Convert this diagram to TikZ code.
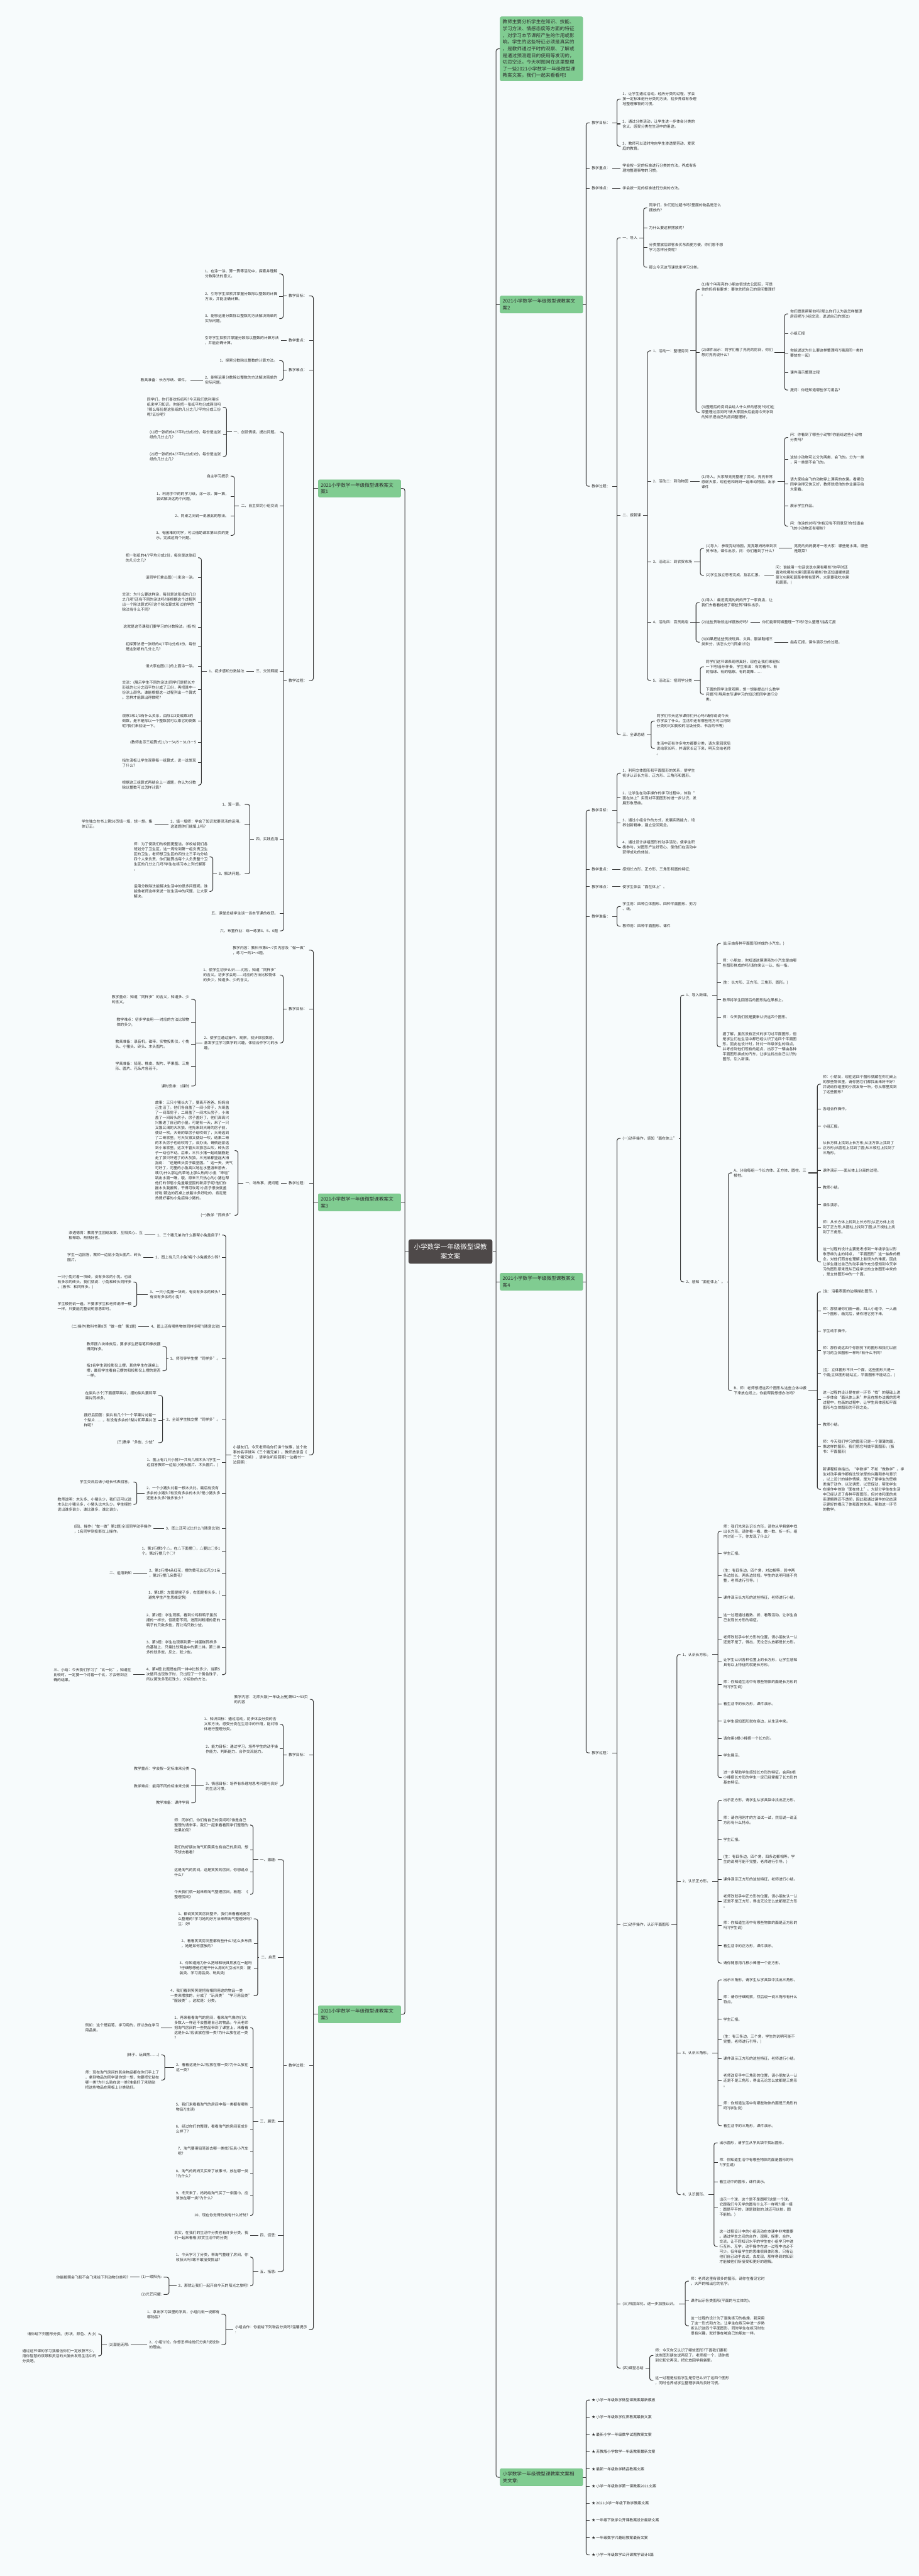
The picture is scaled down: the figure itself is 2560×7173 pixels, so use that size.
\documentclass[tikz,border=0pt]{standalone}
\usepackage{fontspec}
\setmainfont{Noto Sans CJK SC}
\definecolor{bg}{RGB}{247,251,252}
\definecolor{grn}{RGB}{128,204,145}
\definecolor{grnd}{RGB}{112,188,130}
\definecolor{txt}{RGB}{45,45,45}
\definecolor{ln}{RGB}{55,55,55}
\definecolor{ctrc}{RGB}{78,73,73}
\newcommand\fbody{\fontsize{5.15pt}{7pt}\selectfont}
\newcommand\fgreen{\fontsize{6.65pt}{9.3pt}\selectfont}
\newcommand\fctr{\fontsize{9.25pt}{13.5pt}\selectfont}
\tikzset{
 rt/.style={anchor=west,align=left,font=\fbody,text=txt,inner xsep=2.5pt,inner ysep=1pt},
 lt/.style={anchor=east,align=left,font=\fbody,text=txt,inner xsep=2.5pt,inner ysep=1pt},
 conn/.style={draw=ln,line width=0.9pt},
 gbox/.style={fill=grn,draw=grnd,line width=0.4pt,rounded corners=2pt,align=left,font=\fgreen,text=txt,text width=108pt,inner xsep=3.5pt,inner ysep=4.3pt},
 ctrbox/.style={fill=ctrc,rounded corners=3pt,text=white,font=\fctr,align=center,minimum width=117pt,minimum height=34pt,inner sep=2pt}
}
\newcommand\Rt[4]{\node[rt] (#1) at (#2-5,#3) {#4};}
\newcommand\Lf[4]{\node[lt] (#1) at (#2+5,#3) {#4};}
\newcommand\bR[4]{\path (#2,0) coordinate (bxc); \draw[conn] (#1.east) -- (#1.east -| bxc); \draw[conn,rounded corners=3pt] (#3.west) -| (#4.west -| bxc) -- (#4.west);}
\newcommand\mR[2]{\path (#1,0) coordinate (bxc); \foreach \nn in {#2}{\draw[conn] (\nn.west) -- (\nn.west -| bxc);}}
\newcommand\bL[4]{\path (#2,0) coordinate (bxc); \draw[conn] (#1.west) -- (#1.west -| bxc); \draw[conn,rounded corners=3pt] (#3.east) -| (#4.east -| bxc) -- (#4.east);}
\newcommand\mL[2]{\path (#1,0) coordinate (bxc); \foreach \nn in {#2}{\draw[conn] (\nn.east) -- (\nn.east -| bxc);}}
\newcommand\sR[2]{\draw[conn] (#1.east) -- (#2.west);}
\newcommand\sL[2]{\draw[conn] (#1.west) -- (#2.east);}
\begin{document}
\begin{tikzpicture}[x=0.5pt,y=-0.5pt]
\fill[bg] (0,0) rectangle (2560,7173);
\useasboundingbox (0,0) rectangle (2560,7173);
% ---------- top level ----------
\node[ctrbox] (ctr) at (1255,3485) {小学数学一年级微型课教\\案文案};
\node[gbox,anchor=west] (intro) at (1393,136) {教师主要分析学生在知识、技能、\\学习方法、情感态度等方面的特征\\，对学习本节课所产生的作用或影\\响。学生的这些特征必须是真实的\\，是教师通过平时的观察、了解或\\是通过预测题目的使用等发现的，\\切忌空泛。今天树图网在这里整理\\了一些2021小学数学一年级微型课\\教案文案，我们一起来看看吧!};
\node[gbox,anchor=west] (c2) at (1393,848) {2021小学数学一年级微型课教案文\\案2};
\node[gbox,anchor=west] (c4) at (1393,3569) {2021小学数学一年级微型课教案文\\案4};
\node[gbox,anchor=west] (c6) at (1393,6898) {小学数学一年级微型课教案文案相\\关文章:};
\node[gbox,anchor=east] (c1) at (1117,1360) {2021小学数学一年级微型课教案文\\案1};
\node[gbox,anchor=east] (c3) at (1117,3348) {2021小学数学一年级微型课教案文\\案3};
\node[gbox,anchor=east] (c5) at (1117,5609) {2021小学数学一年级微型课教案文\\案5};
\bR{ctr}{1382}{intro}{c6}\mR{1382}{c2,c4}
\bL{ctr}{1128}{c1}{c5}\mL{1128}{c3}
% ---------- case 2 ----------
\Rt{ra}{1648}{342}{教学目标：}
\Rt{rb}{1648}{468}{教学重点：}
\Rt{rc}{1648}{524}{教学难点：}
\Rt{rd}{1648}{1354}{教学过程：}
\bR{c2}{1633}{ra}{rd}\mR{1633}{rb,rc}
\Rt{raa}{1734}{276}{1、让学生通过活动，经历分类的过程，学会\\按一定标准进行分类的方法，初步养成有条理\\地整理事物的习惯。}
\Rt{rab}{1734}{345}{2、通过分类活动，让学生进一步体会分类的\\含义，感受分类在生活中的用途。}
\Rt{rac}{1734}{407}{3、教师可以适时地向学生渗透爱劳动、爱家\\庭的教育。}
\bR{ra}{1719}{raa}{rac}\mR{1719}{rab}
\Rt{rba}{1734}{468}{学会按一定的标准进行分类的方法，养成有条\\理地整理事物的习惯。}\sR{rb}{rba}
\Rt{rca}{1734}{524}{学会按一定的标准进行分类的方法。}\sR{rc}{rca}
\Rt{rd1}{1734}{662}{一、导入}
\Rt{rd2}{1734}{1435}{二、授新课}
\Rt{rd3}{1734}{2046}{三、全课总结}
\bR{rd}{1719}{rd1}{rd3}\mR{1719}{rd2}
\Rt{rd1a}{1808}{579}{同学们，你们逛过超市吗?里面的物品是怎么\\摆放的?}
\Rt{rd1b}{1808}{634}{为什么要这样摆放呢?}
\Rt{rd1c}{1808}{689}{分类摆放后顾客去买东西更方便。你们想不想\\学习怎样分类呢?}
\Rt{rd1d}{1808}{744}{那么今天这节课就来学习分类。}
\bR{rd1}{1793}{rd1a}{rd1d}\mR{1793}{rd1b,rd1c}
\Rt{aa}{1819}{977}{1、活动一：整理房间}
\Rt{ab}{1819}{1341}{2、活动二：到动物园}
\Rt{ac}{1819}{1565}{3、活动三：到农贸市场}
\Rt{ad}{1819}{1733}{4、活动四：百货商店}
\Rt{ae}{1819}{1895}{5、活动五：把同学分类}
\bR{rd2}{1804}{aa}{ae}\mR{1804}{ab,ac,ad}
\Rt{aa1}{1954}{806}{(1)有个叫亮亮的小朋友很想去公园玩，可是\\他的妈妈有要求：要他先把自己的房间整理好\\。}
\Rt{aa2}{1954}{981}{(2)课件出示：同学们看了亮亮的房间，你们\\想对亮亮说什么?}
\Rt{aa3}{1954}{1148}{(3)整理后的房间会给人什么样的感觉?你们在\\家整理过房间吗?请大家回去后能用今天学到\\的知识把自己的房间整理好。}
\bR{aa}{1939}{aa1}{aa3}\mR{1939}{aa2}
\Rt{aa2a}{2201}{874}{你们愿意帮帮他吗?那么你们认为该怎样整理\\房间呢?(小组交流，说说自己的想法)}
\Rt{aa2b}{2201}{929}{小组汇报}
\Rt{aa2c}{2201}{984}{你能说说为什么要这样整理吗?(强调同一类的\\要放在一起)}
\Rt{aa2d}{2201}{1038}{课件演示整理过程}
\Rt{aa2e}{2201}{1086}{提问：你还知道哪些学习用品?}
\bR{aa2}{2186}{aa2a}{aa2e}\mR{2186}{aa2b,aa2c,aa2d}
\Rt{ab1}{1954}{1341}{(1)导入。大家帮亮亮整理了房间，亮亮非常\\感谢大家，现在他和妈妈一起来动物园。出示\\课件}\sR{ab}{ab1}
\Rt{ab1a}{2201}{1218}{问：你看到了哪些小动物?你能给这些小动物\\分类吗?}
\Rt{ab1b}{2201}{1280}{这些小动物可以分为两类，会飞的。分为一类\\，另一类是不会飞的。}
\Rt{ab1c}{2201}{1348}{请大家给会飞的动物穿上漂亮的衣裳。看哪位\\同学涂得又快又好，教师就把他的作业展示给\\大家看。}
\Rt{ab1d}{2201}{1409}{展示学生作品。}
\Rt{ab1e}{2201}{1465}{问：他涂的对吗?你有没有不同意见?你知道会\\飞的小动物还有哪些?}
\bR{ab1}{2186}{ab1a}{ab1e}\mR{2186}{ab1b,ab1c,ab1d}
\Rt{ac1}{1966}{1527}{(1)导入：参观完动物园，亮亮跟妈妈来到农\\贸市场，课件出示，问：你们看到了什么?}
\Rt{ac2}{1966}{1602}{(2)学生独立思考完成，指名汇报。}
\bR{ac}{1951}{ac1}{ac2}
\Rt{ac1a}{2212}{1527}{亮亮的妈妈要考一考大家：哪些是水果，哪些\\是蔬菜?}\sR{ac1}{ac1a}
\Rt{ac2a}{2161}{1602}{问：谁能用一句话说说水果有哪些?你平时还\\喜欢吃哪些水果?蔬菜有哪些?你还知道哪些蔬\\菜?(水果和蔬菜非常有营养，大家要我吃水果\\和蔬菜。)}\sR{ac2}{ac2a}
\Rt{ad1}{1954}{1678}{(1)导入：最近亮亮的妈妈开了一家商店，让\\我们去看看她进了哪些货?课件出示。}
\Rt{ad2}{1954}{1733}{(2)这些货物就这样摆放好吗?}
\Rt{ad3}{1954}{1788}{(3)如果把这些货按玩具、文具、服装鞋帽三\\类来分，该怎么分?(同桌讨论)}
\bR{ad}{1939}{ad1}{ad3}\mR{1939}{ad2}
\Rt{ad2a}{2123}{1733}{你们能帮阿姨整理一下吗?怎么整理?指名汇报}\sR{ad2}{ad2a}
\Rt{ad3a}{2201}{1788}{指名汇报，课件演示分的过程。}\sR{ad3}{ad3a}
\Rt{ae1}{1966}{1857}{同学们这节课表现得真好，现在让我们来轻松\\一下吧!音乐伴奏，学生表演：有的看书、有\\的拍球、有的唱歌、有的跳舞……}
\Rt{ae2}{1966}{1933}{下面的同学注意观察，想一想能提出什么数学\\问题?引导用本节课学习的知识把同学进行分\\类。}
\bR{ae}{1951}{ae1}{ae2}
\Rt{rd3a}{1829}{2008}{同学们今天这节课你们开心吗?请你说说今天\\你学会了什么。生活中还有哪些地方可以用到\\分类的?(如我校的垃圾分类、书店的书等)}
\Rt{rd3b}{1829}{2084}{生活中还有许多地方都要分类，请大家回家后\\说给家长听，并请家长记下来，明天交给老师\\。}
\bR{rd3}{1814}{rd3a}{rd3b}
% ---------- case 4 ----------
\Rt{fa}{1648}{2256}{教学目标：}
\Rt{fb}{1648}{2421}{教学重点：}
\Rt{fc}{1648}{2469}{教学难点：}
\Rt{fd}{1648}{2552}{教学准备：}
\Rt{fe}{1648}{4881}{教学过程：}
\bR{c4}{1633}{fa}{fe}\mR{1633}{fb,fc,fd}
\Rt{fa1}{1734}{2153}{1、利用立体图形和平面图形的关系，使学生\\初步认识长方形、正方形、三角形和圆形。}
\Rt{fa2}{1734}{2222}{2、让学生在动手操作的学习过程中，体验“\\面在体上”实现对平面图形的进一步认识，发\\展形象思维。}
\Rt{fa3}{1734}{2291}{3、通过小组合作的方式，发展实践能力，培\\养创新精神，建立空间观念。}
\Rt{fa4}{1734}{2360}{4、通过设计拼组图形的动手活动，使学生积\\极参与，对图形产生好奇心，使他们在活动中\\获得成功的体验。}
\bR{fa}{1719}{fa1}{fa4}\mR{1719}{fa2,fa3}
\Rt{fb1}{1734}{2421}{感知长方形、正方形、三角形和圆的特征;}\sR{fb}{fb1}
\Rt{fc1}{1734}{2469}{使学生体会“面在体上”。}\sR{fc}{fc1}
\Rt{fd1}{1734}{2524}{学生用：四种立体图形、四种平面图形、剪刀\\、纸。}
\Rt{fd2}{1734}{2579}{教师用：四种平面图形、课件}
\bR{fd}{1719}{fd1}{fd2}
\Rt{p1}{1734}{3170}{(一)动手操作，感知“面在体上”}
\Rt{p2}{1734}{5359}{(二)动手操作，认识平面图形}
\Rt{p3}{1734}{6415}{(三)巩固深化，进一步加强认识。}
\Rt{p4}{1734}{6594}{(四)课堂总结}
\bR{fe}{1719}{p1}{p4}\mR{1719}{p2,p3}
\Rt{q1}{1911}{2771}{1、导入新课。}
\Rt{q2}{1911}{3569}{2、感知“面在体上”。}
\bR{p1}{1896}{q1}{q2}
\Rt{q1a}{2013}{2627}{(出示由各种平面图形拼成的小汽车。)}
\Rt{q1b}{2013}{2682}{师：小朋友，你知道这辆漂亮的小汽车是由哪\\些图形拼成的吗?请你来认一认、指一指。}
\Rt{q1c}{2013}{2736}{(生：长方形、正方形、三角形、圆形。)}
\Rt{q1d}{2013}{2784}{教师将学生回答后的图形贴在黑板上。}
\Rt{q1e}{2013}{2832}{师：今天我们就是要来认识这四个图形。}
\Rt{q1f}{2013}{2915}{据了解，虽然没有正式的学习过平面图形，但\\是学生们在生活中都已经认识了这四个平面图\\形。因此在设计时，针对一年级学生的特点，\\并考虑到他们现有的起点，出示了一辆由各种\\平面图形拼成的汽车，让学生找出自己认识的\\图形，引入新课。}
\bR{q1}{1998}{q1a}{q1f}\mR{1998}{q1b,q1c,q1d,q1e}
\Rt{qa}{2044}{3266}{A、分给每组一个长方体、正方体、圆柱、三\\棱柱。}
\Rt{qb}{2044}{3872}{B、师：老师想把这四个图形从这些立体中搬\\下来放在纸上，你能帮我想想办法吗?}
\bR{q2}{2029}{qa}{qb}
\Rt{qa1}{2292}{3019}{师：小朋友，现在这四个图形就藏在你们桌上\\的那些物体里，请你把它们都找出来好不好?\\并说给你组里的小朋友听一听，你从哪里找到\\了这些图形?}
\Rt{qa2}{2292}{3088}{各组合作操作。}
\Rt{qa3}{2292}{3136}{小组汇报。}
\Rt{qa4}{2292}{3197}{从长方体上找到上长方形;从正方体上找到了\\正方形;从圆柱上找到了圆;从三棱柱上找到了\\三角形。}
\Rt{qa5}{2292}{3259}{课件演示——面从体上分离的过程。}
\Rt{qa6}{2292}{3307}{教师小结。}
\Rt{qa7}{2292}{3355}{课件演示。}
\Rt{qa8}{2292}{3417}{师：从长方体上找到上长方形;从正方体上找\\到了正方形;从圆柱上找到了圆;从三棱柱上找\\到了三角形。}
\Rt{qa9}{2292}{3514}{这一过程的设计主要是考虑到一年级学生以形\\象思维为主的特点，“平面图形”这一抽象的概\\念，对他们而言在理解上有很大的难度。因此\\让学生通过自己的动手操作充分感知到今天学\\习的图形原来是从已经学过的立体图形中来的\\，是立体图形中的一个面。}
\bR{qa}{2277}{qa1}{qa9}\mR{2277}{qa2,qa3,qa4,qa5,qa6,qa7,qa8}
\Rt{qb1}{2292}{3597}{(生：沿着表面的边缘描出图形。)}
\Rt{qb2}{2292}{3651}{师：那就请你们画一画，四人小组中，一人画\\一个图形，画完后，请你把它剪下来。}
\Rt{qb3}{2292}{3706}{学生动手操作。}
\Rt{qb4}{2292}{3761}{师：那你说这四个你刚剪下的图形和我们以前\\学习的立体图形一样吗?有什么不同?}
\Rt{qb5}{2292}{3823}{(生：立体图形不只一个面，这些图形只是一\\个面;立体图形能站立，平面图形不能站立。)}
\Rt{qb6}{2292}{3898}{这一过程的设计是在前一环节“找”的基础上进\\一步体会“面从体上来”并且在想办法搬的思考\\过程中，在画的过程中，让学生具体感知平面\\图形与立体图形的不同之处。}
\Rt{qb7}{2292}{3967}{教师小结。}
\Rt{qb8}{2292}{4029}{师：今天我们学习的图形只是一个薄薄的面，\\像这样的图形，我们把它叫做平面图形。(板\\书：平面图形)}
\Rt{qb9}{2292}{4147}{新课程标准指出，“学数学”不如“做数学”。学\\生对动手操作都有比较浓厚的兴趣和参与意识\\，以上设计的操作情境，是为了使学生的思维\\发端于动作，以动诱思，以思促动，帮助学生\\在操作中体验“面在体上”。大部分学生在生活\\中已经认识了各种平面图形，但对体和面的关\\系理解得还不透彻，因此我通过课件的动态演\\示更好的揭示了体和面的关系，帮助这一环节\\的教学。}
\bR{qb}{2277}{qb1}{qb9}\mR{2277}{qb2,qb3,qb4,qb5,qb6,qb7,qb8}
\Rt{s1}{1901}{4607}{1、认识长方形。}
\Rt{s2}{1901}{5238}{2、认识正方形。}
\Rt{s3}{1901}{5716}{3、认识三角形。}
\Rt{s4}{1901}{6111}{4、认识圆形。}
\bR{p2}{1886}{s1}{s4}\mR{1886}{s2,s3}
\Rt{s1a}{2015}{4264}{师：我们先来认识长方形，请你从学具袋中找\\出长方形。请你看一看、数一数、折一折，组\\内讨论一下，你发现了什么?}
\Rt{s1b}{2015}{4326}{学生汇报。}
\Rt{s1c}{2015}{4388}{(生：有四条边，四个角，对边相等，其中两\\条边较长，两条边较短。学生的说明可能不完\\整，老师进行引导。)}
\Rt{s1d}{2015}{4449}{课件演示长方形的这些特征，老师进行小结。}
\Rt{s1e}{2015}{4504}{这一过程通过看数、折、看等活动，让学生自\\己发现长方形的特征。}
\Rt{s1f}{2015}{4566}{老师改就手中长方形的位置，请小朋友认一认\\还是不是了，得出，无论怎么放都是长方形。}
\Rt{s1g}{2015}{4628}{让学生认识各种位置上的长方形，让学生感知\\具有以上特征的就是长方形。}
\Rt{s1h}{2015}{4690}{师：你知道生活中有哪些物体的面是长方形的\\吗?(学生说)}
\Rt{s1i}{2015}{4745}{看生活中的长方形，课件演示。}
\Rt{s1j}{2015}{4793}{让学生感知图形就在身边，从生活中来。}
\Rt{s1k}{2015}{4841}{请你用6根小棒搭一个长方形。}
\Rt{s1l}{2015}{4888}{学生展示。}
\Rt{s1m}{2015}{4950}{进一步帮助学生感知长方形的特征。会用6根\\小棒搭长方形的学生一定已经掌握了长方形的\\基本特征。}
\bR{s1}{2000}{s1a}{s1m}\mR{2000}{s1b,s1c,s1d,s1e,s1f,s1g,s1h,s1i,s1j,s1k,s1l}
\Rt{s2a}{2015}{5013}{出示正方形，请学生从学具袋中找出正方形。}
\Rt{s2b}{2015}{5068}{师：请你用刚才的方法试一试，然后说一说正\\方形有什么特点。}
\Rt{s2c}{2015}{5122}{学生汇报。}
\Rt{s2d}{2015}{5177}{(生：有四条边，四个角，四条边都相等。学\\生的说明可能不完整，老师进行引导。)}
\Rt{s2e}{2015}{5233}{课件演示正方形的这些特征，老师进行小结。}
\Rt{s2f}{2015}{5294}{老师改就手中正方形的位置，请小朋友认一认\\还是不是正方形，得出无论怎么放都是正方形\\。}
\Rt{s2g}{2015}{5362}{师：你知道生活中有哪些物体的面是正方形的\\吗?(学生说)}
\Rt{s2h}{2015}{5418}{看生活中的正方形，课件演示。}
\Rt{s2i}{2015}{5466}{请你随意用几根小棒搭一个正方形。}
\bR{s2}{2000}{s2a}{s2i}\mR{2000}{s2b,s2c,s2d,s2e,s2f,s2g,s2h}
\Rt{s3a}{2015}{5513}{出示三角形，请学生从学具袋中找出三角形。}
\Rt{s3b}{2015}{5568}{师：请你仔细观察，然后说一说三角形有什么\\特点。}
\Rt{s3c}{2015}{5623}{学生汇报。}
\Rt{s3d}{2015}{5678}{(生：有三条边，三个角，学生的说明可能不\\完整，老师进行引导。)}
\Rt{s3e}{2015}{5733}{课件演示正方形的这些特征，老师进行小结。}
\Rt{s3f}{2015}{5794}{老师改变手中三角形的位置，请小朋友认一认\\还是不是三角形，得出无论怎么放都是三角形\\。}
\Rt{s3g}{2015}{5864}{师：你知道生活中有哪些物体的面是三角形的\\吗?(学生说)}
\Rt{s3h}{2015}{5919}{看生活中的三角形，课件演示。}
\bR{s3}{2000}{s3a}{s3h}\mR{2000}{s3b,s3c,s3d,s3e,s3f,s3g}
\Rt{s4a}{2004}{5967}{出示圆形，请学生从学具袋中找出圆形。}
\Rt{s4b}{2004}{6022}{师：你知道生活中有哪些物体的面是圆形的吗\\?(学生说)}
\Rt{s4c}{2004}{6076}{看生活中的圆形，课件演示。}
\Rt{s4d}{2004}{6146}{出示一个球，这个是不是圆呢?这是一个球，\\它跟我们今天学的圆有什么不一样呢?(摸一摸\\：圆是平平的，球是鼓鼓的;球还可以拍，圆\\不能拍。)}
\Rt{s4e}{2004}{6255}{这一过程设计中的小组活动在本课中非常重要\\。通过学生之间的合作，观察、探索、合作、\\交流，让不同知识水平的学生在小组学习中进\\行互补、互学。动手操作在这一过程中也必不\\可少。低年级学生的思维很具体形象，只有让\\他们自己动手去试，去发现，那样得到的知识\\才能被他们所接受和更好的理解。}
\bR{s4}{1989}{s4a}{s4e}\mR{1989}{s4b,s4c,s4d}
\Rt{p3a}{1924}{6352}{师：老师这里有很多的图形，请你在看见它时\\，大声的喊出它的名字。}
\Rt{p3b}{1924}{6407}{课件出示各类图形(平面的与立体的)。}
\Rt{p3c}{1924}{6476}{这一过程的设计为了避免练习的枯燥，我采用\\了这一形式和方法。让学生在练习中进一步熟\\练认识这四个平面图形，同时学生在练习时也\\很有兴趣，就好像在喊自己的朋友一样。}
\bR{p3}{1909}{p3a}{p3c}\mR{1909}{p3b}
\Rt{p4a}{1825}{6559}{师：今天你又认识了哪些图形?下面我们要和\\这些图形朋友说再见了。老师报一个，请你找\\到它和它再见，把它放回学具袋里。}
\Rt{p4b}{1825}{6628}{这一过程是检验学生是否已认识了这四个图形\\，同时也养成学生整理学具的良好习惯。}
\bR{p4}{1810}{p4a}{p4b}
% ---------- related ----------
\Rt{rl1}{1648}{6683}{★ 小学一年级数学微型课教案最新模板}
\Rt{rl2}{1648}{6731}{★ 小学一年级数学优质教案最新文案}
\Rt{rl3}{1648}{6779}{★ 最新小学一年级数学试题教案文案}
\Rt{rl4}{1648}{6827}{★ 苏教版小学数学一年级教案最新文案}
\Rt{rl5}{1648}{6875}{★ 最新一年级数学精品教案文案}
\Rt{rl6}{1648}{6923}{★ 小学一年级数学第一课教案2021文案}
\Rt{rl7}{1648}{6970}{★ 2021小学一年级下数学教案文案}
\Rt{rl8}{1648}{7018}{★ 一年级下数学公开课教案设计最新文案}
\Rt{rl9}{1648}{7066}{★ 一年级数学兴趣班教案最新文案}
\Rt{rl10}{1648}{7114}{★ 小学一年级数学公开课教学设计5篇}
\bR{c6}{1633}{rl1}{rl10}\mR{1633}{rl2,rl3,rl4,rl5,rl6,rl7,rl8,rl9}
% ---------- case 1 ----------
\Lf{ga}{856}{824}{教学目标：}
\Lf{gb}{856}{948}{教学重点：}
\Lf{gc}{856}{1031}{教学难点：}
\Lf{gd}{856}{1895}{教学过程：}
\bL{c1}{873}{ga}{gd}\mL{873}{gb,gc}
\Lf{ga1}{773}{763}{1、在涂一涂、算一算等活动中，探索并理解\\分数除法的意义。}
\Lf{ga2}{773}{825}{2、引导学生探索并掌握分数除以整数的计算\\方法，并能正确计算。}
\Lf{ga3}{773}{887}{3、能够运用分数除以整数的方法解决简单的\\实际问题。}
\bL{ga}{789}{ga1}{ga3}\mL{789}{ga2}
\Lf{gb1}{777}{948}{引导学生探索并掌握分数除以整数的计算方法\\，并能正确计算。}\sL{gb}{gb1}
\Lf{gc1}{773}{1004}{1、探索分数除以整数的计算方法。}
\Lf{gc2}{773}{1059}{2、能够运用分数除以整数的方法解决简单的\\实际问题。}
\bL{gc}{789}{gc1}{gc2}
\Lf{gc2a}{526}{1059}{教具准备：长方形纸、课件。}\sL{gc2}{gc2a}
\Lf{m1}{775}{1203}{一、创设情境，提出问题。}
\Lf{m2}{775}{1409}{二、自主探究小组交流}
\Lf{m3}{775}{1869}{三、交流释疑}
\Lf{m4}{775}{2337}{四、实践应用}
\Lf{m5}{775}{2543}{五、课堂总结学生谈一谈本节课的收获。}
\Lf{m6}{775}{2592}{六、布置作业：练一练第3、5、6题}
\bL{gd}{790}{m1}{m6}\mL{790}{m2,m3,m4,m5}
\Lf{m1a}{616}{1134}{同学们，你们喜欢折纸吗?今天我们就利用折\\纸来学习知识。你能把一张纸平均分成两份吗\\?那么每份是这张纸的几分之几?平均分成三份\\呢?五份呢?}
\Lf{m1b}{616}{1210}{(1)把一张纸的4/7平均分成2份，每份是这张\\纸的几分之几?}
\Lf{m1c}{616}{1271}{(2)把一张纸的4/7平均分成3份，每份是这张\\纸的几分之几?}
\bL{m1}{631}{m1a}{m1c}\mL{631}{m1b}
\Lf{m2a}{638}{1326}{自主学习提示}
\Lf{m2b}{638}{1382}{1、利用手中的的学习纸，涂一涂，算一算，\\尝试解决这两个问题。}
\Lf{m2c}{638}{1437}{2、同桌之间说一说彼此的想法。}
\Lf{m2d}{638}{1491}{3、有困难的同学，可以借助课本第55页的提\\示，完成这两个问题。}
\bL{m2}{653}{m2a}{m2d}\mL{653}{m2b,m2c}
\Lf{m3a}{681}{1869}{1、初步感知分数除法}\sL{m3}{m3a}
\Lf{m3a1}{547}{1553}{把一张纸的4/7平均分成2份，每份是这张纸\\的几分之几?}
\Lf{m3a2}{547}{1608}{请同学们拿出图(一)来涂一涂。}
\Lf{m3a3}{547}{1677}{交流：为什么要这样涂，每份是这张纸的几分\\之几呢?还有不同的涂法吗?能根据这个过程列\\出一个除法算式吗?这个除法算式和以前学的\\除法有什么不同?}
\Lf{m3a4}{547}{1746}{这就是这节课我们要学习的分数除法。(板书)}
\Lf{m3a5}{547}{1801}{初探算法把一张纸的4/7平均分成3份，每份\\是这张纸的几分之几?}
\Lf{m3a6}{547}{1855}{请大家在图(二)的上面涂一涂。}
\Lf{m3a7}{547}{1921}{交流：(展示学生不同的涂法)同学们是把长方\\形纸的七分之四平均分成了三份，再把其中一\\份涂上颜色。谁能根据这一过程列出一个算式\\。怎样才能算出得数呢?}
\Lf{m3a8}{547}{2007}{观察3和1/3有什么关系，由除以3变成乘3的\\倒数，是不是除以一个整数就可以乘它的倒数\\呢?我们来验证一下。}
\Lf{m3a9}{547}{2068}{(教师出示三组算式)1/3÷54/5÷31/3÷5}
\Lf{m3a10}{547}{2124}{指生演板让学生观察每一组算式，说一说发现\\了什么?}
\Lf{m3a11}{547}{2186}{根据这三组算式再结合上一道题，你认为分数\\除以整数可以怎样计算?}
\bL{m3a}{561}{m3a1}{m3a11}\mL{561}{m3a2,m3a3,m3a4,m3a5,m3a6,m3a7,m3a8,m3a9,m3a10}
\Lf{m4a}{677}{2240}{1、算一算。}
\Lf{m4b}{677}{2295}{2、填一填师：学会了知识就要灵活的运用，\\这道题你们能填上吗?}
\Lf{m4c}{677}{2433}{3、解决问题。}
\bL{m4}{696}{m4a}{m4c}\mL{696}{m4b}
\Lf{m4b1}{425}{2295}{学生独立在书上第56页填一填，想一想。集\\体订正。}\sL{m4b}{m4b1}
\Lf{m4c1}{579}{2386}{师：为了使我们的校园更整洁，学校给我们各\\班划分了卫生区，这一周轮到第一组负责卫生\\区的卫生，老师想卫生区的四分之三平均分给\\四个人来负责，你们能算出每个人负责整个卫\\生区的几分之几吗?学生在练习本上列式解答\\。}
\Lf{m4c2}{579}{2482}{运用分数除法能解决生活中的很多问题呢。谁\\能像老师这样来说一说生活中的问题，让大家\\解决。}
\bL{m4c}{593}{m4c1}{m4c2}
% ---------- case 3 ----------
\Lf{ha}{856}{2646}{教学内容：教科书第6～7页内容及“做一做”\\，练习一的1～4题。}
\Lf{hb}{856}{2810}{教学目标：}
\Lf{hc}{856}{3295}{教学过程：}
\Lf{hd}{856}{4051}{小朋友们，今天老师给你们讲个故事，这个故\\事的名字就叫《三个猪兄弟》。教师放录音《\\三个猪兄弟》，请学生听后回答(一边看书一\\边回答):}
\bL{c3}{873}{ha}{hd}\mL{873}{hb,hc}
\Lf{hb1}{775}{2715}{1、使学生初步认识——对应，知道“同样多”\\的含义。初步学会用——对应的方法比较物体\\的多少，知道多、少的含义。}
\Lf{hb2}{775}{2904}{2、使学生通过操作、观察，初步体验数感，\\激发学生学习数学的兴趣，体验合作学习的乐\\趣。}
\bL{hb}{789}{hb1}{hb2}
\Lf{hb2a}{528}{2783}{教学重点：知道“同样多”的含义，知道多、少\\的含义。}
\Lf{hb2b}{528}{2846}{教学难点：初步学会用——对应的方法比较物\\体的多少;}
\Lf{hb2c}{528}{2908}{教具准备：录音机，磁带，实物投影仪，小兔\\头、小猪头、砖头、木头图片。}
\Lf{hb2d}{528}{2969}{学具准备：铅笔、橡皮、梨片、苹果图、三角\\形、圆片、花朵片各若干。}
\Lf{hb2e}{528}{3024}{课时安排：1课时}
\bL{hb2}{545}{hb2a}{hb2e}\mL{545}{hb2b,hb2c,hb2d}
\Lf{hc1}{777}{3295}{一、听故事，提问题}\sL{hc}{hc1}
\Lf{st}{649}{3204}{故事：三只小猪长大了，要离开爸爸、妈妈自\\己生活了。他们各自盖了一间小房子，大哥盖\\了一间草房子，二哥盖了一间木头房子，小弟\\盖了一间砖头房子。房子盖好了，他们高高兴\\兴搬进了自己的小屋。可是有一天，来了一只\\又饿又渴的大灰狼，他先来到大哥的房子前，\\使劲一吹，大哥的草房子给吹倒了，大哥逃到\\了二哥家里。可大灰狼又使劲一吹，结果二哥\\的木头房子也给吹垮了。没办法，哥俩赶紧逃\\到小弟家里。这次不管大灰狼怎么吹，砖头房\\子一动也不动。后来，三只小猪一起动脑筋赶\\走了那只坏透了的大灰狼。三兄弟都竖起大拇\\指说：“还是砖头房子最坚固。”这一天，天气\\可好了，河里的小鱼高兴地在水里游来游去，\\咦!为什么那边的草地上那么热闹!小鱼“哗啦”\\跳出水面一瞧，哦，原来三只热心的小猪在帮\\他们的邻居小兔盖最坚固的新房子呢!他们你\\搬木头我搬砖，干得可欢呢!小房子很快就盖\\好啦!那边的石桌上放着许多好吃的，肯定是\\热情好客的小兔招待小猪的。}
\Lf{hc1b}{649}{3384}{(一)教学“同样多”}
\bL{hc1}{663}{st}{hc1b}
\Lf{n1}{614}{3439}{1、三个猪兄弟为什么要帮小兔盖房子?}
\Lf{n2}{614}{3501}{2、图上有几只小兔?每个小兔搬多少砖?}
\Lf{n3}{614}{3605}{3、一只小兔搬一块砖，有没有多余的砖头?\\有没有多余的小兔?}
\Lf{n4}{614}{3694}{4、图上还有哪些物体同样多呢?(随意比较)}
\Lf{n5}{614}{3783}{1、师引导学生摆“同样多”。}
\Lf{n6}{614}{3952}{2、全班学生独立摆“同样多”。}
\Lf{n7}{614}{4072}{1、图上有几只小猪?一共有几根木头?(学生一\\边回答教师一边贴小猪头图片、木头图片。)}
\Lf{n8}{614}{4158}{2、一个小猪头对着一根木头比，最后有没有\\多余的小猪头?有没有多余的木头?是小猪头多\\还是木头多?谁多谁少?}
\Lf{n9}{614}{4257}{3、图上还可以比什么?(随意比较)}
\Lf{n10}{614}{4319}{1、第1行摆5个△，在△下面摆○，△要比○多1\\个。第2行摆几个○?}
\Lf{n11}{614}{4381}{2、第1行摆4朵红花，摆的黄花比红花少1朵\\，第2行摆几朵黄花?}
\Lf{n12}{614}{4442}{1、第1题：左图是猴子多，右图是骨头多。(\\避免学生产生思维定势)}
\Lf{n13}{614}{4511}{2、第2题：学生观察，看到公鸡和鸭子虽然\\摆的一样长，但疏密不同，进而判断摆的密的\\鸭子的只数多些，而公鸡只数少些。}
\Lf{n14}{614}{4587}{3、第3题：学生在观察到第一排蛋糕同样多\\的基础上，只需比较两盒中的第二排。第二排\\多的就多些，反之，就少些。}
\Lf{n15}{614}{4663}{4、第4题:此题是在同一排中比较多少，当第5\\次循环出现珠子时，只出现了一个黄色珠子，\\所以黄珠多而红珠少。介绍你的方法。}
\bL{hd}{629}{n1}{n15}\mL{629}{n2,n3,n4,n5,n6,n7,n8,n9,n10,n11,n12,n13,n14}
\Lf{n1a}{398}{3439}{渗透德育：教育学生团结友爱、互相关心、互\\相帮助、热情好客。}\sL{n1}{n1a}
\Lf{n2a}{394}{3501}{学生一边回答，教师一边贴小兔头图片、砖头\\图片。}\sL{n2}{n2a}
\Lf{n3a}{367}{3570}{一只小兔对着一块砖，没有多余的小兔，也没\\有多余的砖头。我们就说：小兔和砖头同样多\\。(板书：和同样多。)}
\Lf{n3b}{367}{3638}{学生模仿说一遍。不要求学生和老师说得一模\\一样，只要能完整说明意思即可。}
\bL{n3}{381}{n3a}{n3b}
\Lf{n4a}{380}{3694}{(二)操作(教科书第8页“做一做”第1题)}\sL{n4}{n4a}
\Lf{n5a}{448}{3749}{教师摆六块橡皮后，要求学生把铅笔和橡皮摆\\得同样多。}
\Lf{n5b}{448}{3817}{指1名学生到投影仪上摆，其他学生在课桌上\\摆，最后学生看自己摆的和投影仪上摆的是否\\一样。}
\bL{n5}{464}{n5a}{n5b}
\Lf{n6a}{436}{3886}{在梨片(5个)下面摆苹果片，摆的梨片要和苹\\果片同样多。}
\Lf{n6b}{436}{3955}{摆好后回答：梨片有几个?一个苹果片对着一\\个梨片……，有没有多余的?梨片和苹果片怎\\样呢?}
\Lf{n6c}{436}{4017}{(三)教学“多些、少些”}
\bL{n6}{453}{n6a}{n6c}\mL{453}{n6b}
\Lf{n8a}{367}{4127}{学生交流后请小组长代表回答。}
\Lf{n8b}{367}{4189}{教师说明：木头多、小猪头少，我们还可以说\\木头比小猪头多，小猪头比木头少。学生模仿\\说出谁多谁少，谁比谁多，谁比谁少。}
\bL{n8}{381}{n8a}{n8b}
\Lf{n9a}{422}{4257}{(四)、操作(“做一做”第2题)全班同学动手操作\\，1名同学到投影仪上操作。}\sL{n9}{n9a}
\Lf{n11a}{367}{4381}{二、运用新知}\sL{n11}{n11a}
\Lf{n15a}{366}{4663}{三、小结：今天我们学习了“比一比”，知道在\\比较时，一定要一个对着一个比，才会得到正\\确的结果。}\sL{n15}{n15a}
% ---------- case 5 ----------
\Lf{ka}{858}{4732}{教学内容：北师大版(一年级上册)第52～53页\\的内容}
\Lf{kb}{856}{4886}{教学目标：}
\Lf{kc}{856}{5752}{教学过程：}
\Lf{kd}{856}{6487}{小组合作：你能给下列物品分类吗?温馨提示\\:}
\bL{c5}{873}{ka}{kd}\mL{873}{kb,kc}
\Lf{kb1}{775}{4801}{1、知识目标：通过活动，初步体会分类的含\\义和方法，感受分类在生活中的作用，能对物\\体进行整理分类。}
\Lf{kb2}{775}{4870}{2、能力目标：通过学习，培养学生的动手操\\作能力、判断能力、合作交流能力。}
\Lf{kb3}{775}{4973}{3、情感目标：培养有条理地思考问题与良好\\的生活习惯。}
\bL{kb}{789}{kb1}{kb3}\mL{789}{kb2}
\Lf{kb3a}{528}{4925}{教学重点：学会按一定标准来分类}
\Lf{kb3b}{528}{4973}{教学难点：能用不同的标准来分类}
\Lf{kb3c}{528}{5020}{教学准备：课件学具}
\bL{kb3}{545}{kb3a}{kb3c}\mL{545}{kb3b}
\Lf{o1}{769}{5178}{一、激趣:}
\Lf{o2}{769}{5450}{二、启思}
\Lf{o3}{769}{5907}{三、展思:}
\Lf{o4}{769}{6224}{四、促思:}
\Lf{o5}{769}{6325}{五、拓思:}
\bL{kc}{790}{o1}{o5}\mL{790}{o2,o3,o4}
\Lf{o1a}{692}{5082}{师：同学们，你们有自己的房间吗?谁是自己\\整理的请举手。我们一起来看看同学们整理的\\效果如何?}
\Lf{o1b}{692}{5151}{我们的好朋友淘气和笑笑也有自己的房间，想\\不想去看看?}
\Lf{o1c}{692}{5213}{这是淘气的房间，这是笑笑的房间，你想说点\\什么?}
\Lf{o1d}{692}{5275}{今天我们就一起来帮淘气整理房间。板题：《\\整理房间》}
\bL{o1}{705}{o1a}{o1d}\mL{705}{o1b,o1c}
\Lf{o2a}{702}{5343}{1、都说笑笑笑房间整齐，我们来看看她是怎\\么整理的?学习她的好方法来帮淘气整理好吗?\\生：好!}
\Lf{o2b}{702}{5412}{2、看看笑笑房间里都有些什么?这么多东西\\，她是如何摆放的?}
\Lf{o2c}{702}{5481}{3、你知道她为什么把球和玩具熊放在一起吗\\?仔细想想他们是干什么用的?(引出三类：服\\装类、学习用品类、玩具类)}
\Lf{o2d}{702}{5557}{4、我们看到笑笑是把有相同用途的物品一类\\一类来摆放的，分成了“玩具类”“学习用品类”\\“服装类”。这就是：分类。}
\bL{o2}{718}{o2a}{o2d}\mL{718}{o2b,o2c}
\Lf{o3a}{692}{5646}{1、再来看看淘气的房间，看来淘气像你们大\\多数人一样还不会整理自己的物品。今天老师\\把淘气房间的一些物品带到了课堂上，来看看\\这是什么?应该放在哪一类?为什么放在这一类\\?}
\Lf{o3b}{692}{5757}{2、看看这是什么?应放在哪一类?为什么放在\\这一类?}
\Lf{o3c}{692}{5867}{5、我们来看看淘气的房间中每一类都有哪些\\物品?(生读)}
\Lf{o3d}{692}{5929}{6、经过你们的整理，看看淘气的房间变成什\\么样了?}
\Lf{o3e}{692}{5990}{7、淘气要用铅笔该去哪一类找?玩具小汽车\\呢?}
\Lf{o3f}{692}{6052}{8、淘气的妈妈又买来了故事书，放在哪一类\\?为什么?}
\Lf{o3g}{692}{6114}{9、冬天来了，妈妈给淘气买了一条围巾，应\\该放在哪一类?为什么?}
\Lf{o3h}{692}{6169}{10、现在你觉得分类有什么好处?}
\bL{o3}{705}{o3a}{o3h}\mL{705}{o3b,o3c,o3d,o3e,o3f,o3g}
\Lf{o3a1}{444}{5646}{例如：这个是铅笔，学习用的，所以放在学习\\用品类。}\sL{o3a}{o3a1}
\Lf{o3b1}{444}{5722}{(袜子、玩具熊……)}
\Lf{o3b2}{444}{5792}{师：现在淘气房间的其余物品都在你们手上了\\，拿到物品的同学请你想一想，你要把它贴在\\哪一类?为什么贴在这一类?准备好了来贴贴\\把这些物品在黑板上分类贴好。}
\bL{o3b}{459}{o3b1}{o3b2}
\Lf{o4a}{692}{6224}{其实，在我们的生活中分类也有许多分类，我\\们一起来看看(欣赏生活中的分类)}\sL{o4}{o4a}
\Lf{o5a}{692}{6285}{1、今天学习了分类，帮淘气整理了房间，你\\收获大吗?敢不敢接受挑战?}
\Lf{o5b}{692}{6365}{2、那就让我们一起开启今天的阳光之旅吧!}
\bL{o5}{705}{o5a}{o5b}
\Lf{o5b1}{451}{6341}{(1)一缕阳光:}
\Lf{o5b2}{451}{6389}{(2)光芒闪耀:}
\bL{o5b}{471}{o5b1}{o5b2}
\Lf{o5b1a}{358}{6341}{你能按照会飞和不会飞来给下列动物分类吗?}\sL{o5b1}{o5b1a}
\Lf{kd1}{612}{6444}{1、拿出学习袋里的学具，小组内说一说都有\\哪物品?}
\Lf{kd2}{612}{6529}{2、小组讨论，你想怎样给他们分类?说说你\\的理由。}
\bL{kd}{629}{kd1}{kd2}
\Lf{kd2a}{360}{6529}{(3)潜能无限:}\sL{kd2}{kd2a}
\Lf{kd2a1}{269}{6499}{请你给下列图形分类。(形状，颜色、大小)}
\Lf{kd2a2}{269}{6560}{通过这节课的学习我相信你们一定收获不少，\\用你智慧的双眼和灵活的大脑去发现生活中的\\分类吧。}
\bL{kd2a}{283}{kd2a1}{kd2a2}
\end{tikzpicture}
\end{document}
